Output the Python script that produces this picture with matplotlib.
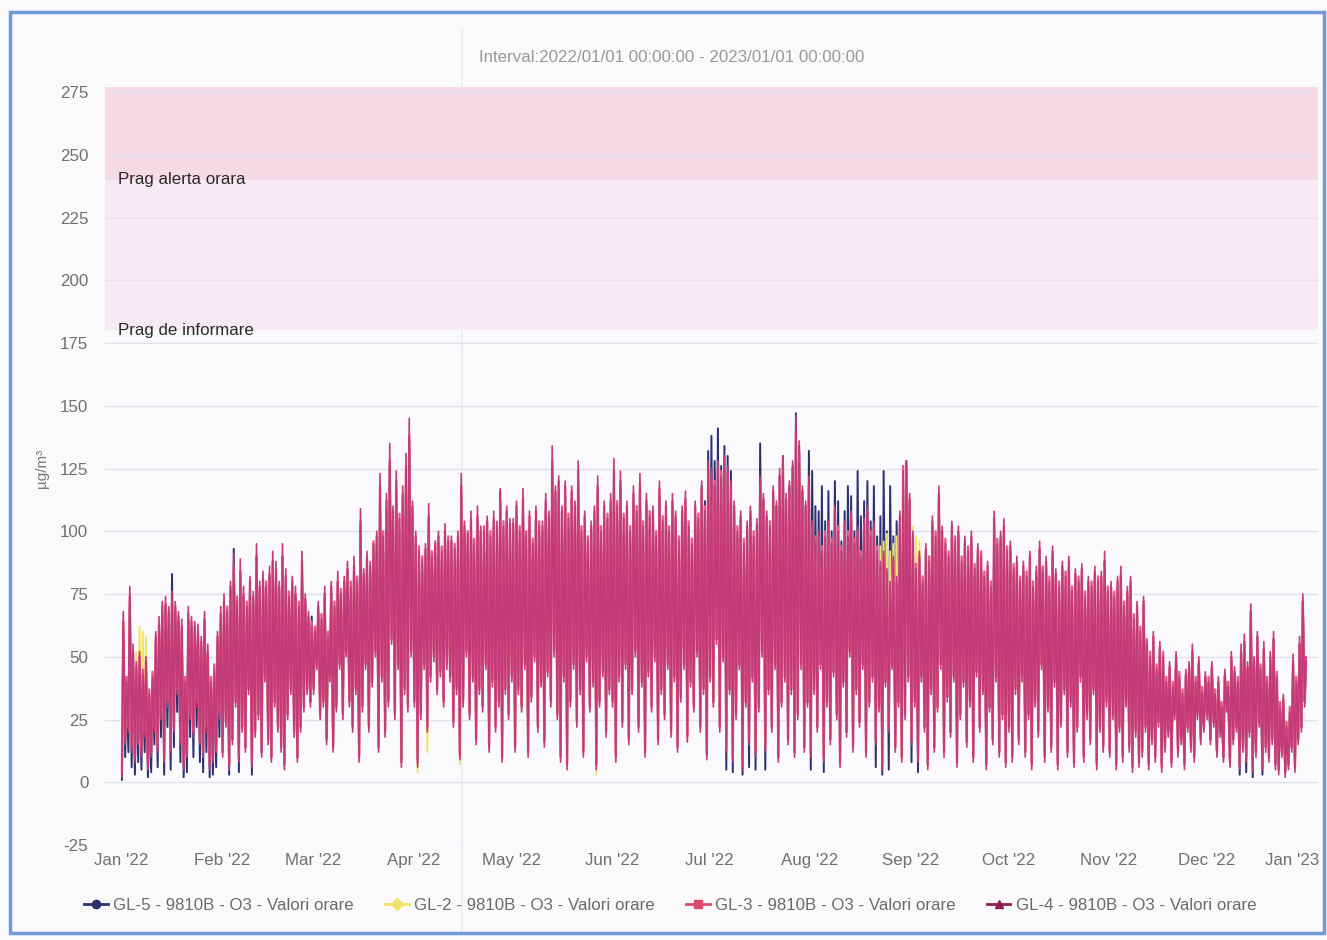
import numpy as np
import matplotlib.pyplot as plt
from matplotlib.lines import Line2D
from matplotlib.patches import Rectangle
import matplotlib.transforms as mtransforms

plt.rcParams['font.family'] = ['Liberation Sans', 'DejaVu Sans']
plt.rcParams['axes.unicode_minus'] = False

# daily peak / trough (ug/m3), one value per day of 2022
GL4_MAX = [
    68,40,78,55,48,52,45,50,35,42,60,66,72,74,70,76,72,68,65,40,70,66,64,63,58,68,55,40,45,60,70,
    75,68,80,91,72,89,78,70,82,76,95,80,84,78,86,92,88,80,95,85,74,82,78,70,92,75,68,62,
    60,72,65,78,58,80,70,84,75,82,88,78,90,80,109,85,92,88,95,100,123,98,115,135,110,124,105,118,131,145,112,
    100,92,88,95,111,90,95,100,92,103,96,98,93,100,123,104,99,108,95,110,102,100,106,98,108,104,117,102,110,105,
    105,112,100,117,98,108,95,110,102,104,115,108,134,118,122,110,120,105,118,112,128,100,108,96,104,110,122,100,112,105,115,
    129,110,124,105,112,100,118,108,123,102,115,106,110,98,120,104,112,100,115,108,96,110,116,102,95,112,105,120,108,128,
    125,118,128,122,130,126,120,112,100,108,95,104,110,98,105,122,115,108,102,118,112,125,130,115,120,128,146,136,118,112,122,
    104,96,100,92,98,104,95,110,100,92,104,98,108,95,102,90,105,110,98,104,92,88,92,85,80,90,82,108,124,128,115,
    100,85,92,80,95,88,106,98,118,102,95,90,104,96,102,88,98,92,100,85,95,90,82,88,78,108,95,100,105,92,
    96,85,90,80,88,82,92,78,86,96,84,90,80,94,85,78,88,82,90,76,85,80,87,74,82,78,86,80,84,92,76,
    80,74,82,86,70,78,82,65,72,60,74,55,50,60,45,56,50,40,48,38,52,42,35,45,48,55,40,50,36,44,
    40,48,35,42,30,45,38,52,46,40,55,59,48,71,50,60,45,56,40,52,60,42,30,35,22,28,51,40,58,75,50,
]
GL4_MIN = [
    2,15,20,12,8,15,10,18,5,10,20,12,25,8,30,12,20,35,15,5,10,25,18,30,15,10,20,5,8,12,25,
    10,22,5,15,30,8,20,12,35,6,18,25,10,40,15,8,30,20,12,5,25,35,18,8,20,28,35,30,
    35,45,25,30,15,40,12,28,45,25,50,30,20,35,8,28,45,20,38,50,12,40,18,30,55,25,45,6,35,28,50,
    30,6,25,45,20,40,48,35,42,30,45,40,22,35,9,30,50,25,40,15,35,28,45,12,38,20,30,8,35,25,
    40,12,35,28,45,10,32,48,20,38,14,42,30,50,25,8,40,5,30,45,22,35,10,48,28,38,5,30,42,18,35,
    30,8,40,22,45,15,35,50,20,38,10,42,28,48,15,35,25,45,18,40,12,32,45,16,38,28,50,20,35,9,
    40,30,55,20,48,12,35,8,25,45,5,30,15,40,10,28,50,12,35,20,45,8,30,40,15,35,10,25,45,12,30,
    10,35,20,45,8,30,15,42,25,6,38,18,50,12,35,22,45,10,30,40,15,28,5,38,20,45,12,30,8,25,40,
    15,30,8,40,20,5,35,12,28,45,10,32,18,40,6,25,38,14,30,8,42,20,35,5,28,15,40,10,25,6,
    20,8,35,15,40,10,25,5,30,18,45,8,28,12,38,5,22,35,10,30,6,20,40,8,25,15,35,5,20,12,30,
    10,25,5,20,8,30,12,4,18,6,10,20,5,15,8,22,4,12,18,6,25,10,15,5,20,12,8,25,15,20,
    25,15,22,10,18,8,28,6,15,20,5,12,8,18,4,10,22,5,12,8,15,5,3,10,2,5,12,4,15,20,30,
]

GL3_MAX = [
    64,42,74,52,46,50,43,48,37,44,58,63,70,71,68,72,70,66,62,42,67,64,62,60,56,65,52,42,47,58,67,
    72,70,78,86,74,84,75,72,80,74,90,78,81,80,83,88,85,78,90,82,76,80,75,72,88,73,66,64,
    62,70,67,75,60,78,72,80,77,80,85,80,86,82,104,83,90,86,96,98,118,100,112,128,108,120,107,115,126,138,110,
    98,94,90,93,106,92,96,98,94,100,98,96,95,98,118,102,100,105,97,106,100,102,104,100,105,102,112,104,108,103,
    103,110,102,113,100,106,97,108,104,102,112,106,128,116,120,108,118,107,116,110,124,102,106,98,102,108,118,102,110,107,112,
    124,112,120,107,110,102,115,110,119,104,112,108,108,100,117,106,110,102,112,106,98,108,113,104,97,110,107,117,110,124,
    122,120,125,124,127,123,118,110,102,106,97,102,108,100,103,118,113,106,104,116,110,122,127,113,118,125,140,132,116,110,118,
    102,98,98,94,100,102,97,108,102,94,102,100,106,97,100,92,103,108,100,102,94,86,90,83,78,88,80,106,126,125,113,
    98,87,90,82,93,90,104,100,115,100,97,92,102,98,100,90,96,94,98,87,93,92,84,86,80,105,97,98,102,94,
    94,87,88,82,86,84,90,80,84,93,86,88,82,92,83,80,86,84,88,78,83,82,85,76,80,80,84,82,82,88,78,
    78,76,80,83,72,76,80,67,70,62,72,57,52,58,47,54,52,42,46,40,50,44,37,43,46,52,42,48,38,42,
    42,46,37,40,32,43,40,50,44,42,52,56,46,68,48,57,47,53,42,50,57,44,32,33,24,30,48,42,55,72,48,
]
GL3_MIN = [
    4,17,22,14,10,17,12,20,7,12,22,14,27,10,32,14,22,37,17,7,12,27,20,32,17,12,22,7,10,14,27,
    12,24,7,17,32,10,22,14,37,8,20,27,12,42,17,10,32,22,14,7,27,37,20,10,22,30,37,32,
    37,47,27,32,17,42,14,30,47,27,52,32,22,37,10,30,47,22,40,52,14,42,20,32,57,27,47,8,37,30,52,
    32,8,27,47,22,42,50,37,44,32,47,42,24,37,11,32,52,27,42,17,37,30,47,14,40,22,32,10,37,27,
    42,14,37,30,47,12,34,50,22,40,16,44,32,52,27,10,42,7,32,47,24,37,12,50,30,40,7,32,44,20,37,
    32,10,42,24,47,17,37,52,22,40,12,44,30,50,17,37,27,47,20,42,14,34,47,18,40,30,52,22,37,11,
    42,32,57,22,50,14,37,10,27,47,7,32,17,42,12,30,52,14,37,22,47,10,32,42,17,37,12,27,47,14,32,
    12,37,22,47,10,32,17,44,27,8,40,20,52,14,37,24,47,12,32,42,17,30,7,40,22,47,14,32,10,27,42,
    17,32,10,42,22,7,37,14,30,47,12,34,20,42,8,27,40,16,32,10,44,22,37,7,30,17,42,12,27,8,
    22,10,37,17,42,12,27,7,32,20,47,10,30,14,40,7,24,37,12,32,8,22,42,10,27,17,37,7,22,14,32,
    12,27,7,22,10,32,14,6,20,8,12,22,7,17,10,24,6,14,20,8,27,12,17,7,22,14,10,27,17,22,
    27,17,24,12,20,10,30,8,17,22,7,14,10,20,6,12,24,7,14,10,17,7,5,12,4,7,14,6,17,22,32,
]

GL5_MAX = [
    60,38,70,50,44,48,40,46,33,40,56,62,68,70,66,83,68,64,60,38,65,62,60,58,54,62,50,38,42,55,65,
    70,64,76,93,68,84,74,66,78,72,90,76,80,74,82,88,84,76,90,80,70,78,74,66,86,72,64,66,
    56,68,62,74,55,76,66,80,72,78,84,74,86,76,102,80,88,84,90,95,116,92,108,126,104,116,100,112,124,136,106,
    95,88,84,90,104,86,90,95,88,98,92,94,88,95,116,98,95,102,90,104,98,95,100,94,102,100,116,98,104,100,
    100,106,96,110,94,102,90,104,98,100,108,104,126,112,116,104,114,100,112,106,120,96,102,92,100,104,116,96,106,100,110,
    122,104,118,100,106,96,112,104,116,98,110,100,104,94,114,100,106,96,110,104,92,104,110,98,92,106,100,118,112,132,
    138,128,141,126,134,130,124,108,98,104,92,100,106,95,102,135,112,104,98,114,110,122,130,112,118,126,147,134,116,110,132,
    124,110,108,118,104,116,100,120,112,96,108,118,114,100,124,106,112,120,104,118,98,106,124,100,118,98,104,104,118,128,112,
    96,82,88,76,92,84,102,94,112,98,92,86,100,92,98,84,94,88,96,82,92,86,78,84,75,104,92,96,100,88,
    92,82,86,76,84,78,88,75,82,92,80,86,76,90,82,75,84,78,86,72,82,76,84,70,78,75,82,76,80,88,72,
    76,70,78,82,66,74,78,62,68,56,70,52,47,56,42,52,47,37,45,35,48,40,33,42,45,52,37,47,33,42,
    37,45,33,40,28,42,35,49,43,37,52,56,45,68,47,58,42,53,37,49,57,40,28,32,20,26,48,37,55,72,47,
]
GL5_MIN = [
    1,10,12,6,3,8,5,12,2,4,15,6,18,3,22,5,14,28,8,2,4,18,10,22,8,4,12,2,3,6,18,
    12,24,3,17,32,4,22,14,37,3,20,27,12,42,17,10,32,22,14,7,27,37,20,10,22,30,37,32,
    38,48,28,33,18,44,15,31,48,28,53,33,23,38,11,31,48,23,41,53,15,43,21,33,58,28,48,9,38,31,53,
    33,9,28,48,23,43,51,38,45,33,48,43,25,38,12,33,53,28,43,18,38,31,48,15,41,23,33,11,38,28,
    43,15,38,31,48,13,35,51,23,41,17,45,33,53,28,11,43,8,33,48,25,38,13,51,31,41,8,33,45,21,38,
    33,11,43,25,48,18,38,53,23,41,13,45,31,51,18,38,28,48,21,43,15,35,48,19,41,31,53,23,38,12,
    42,32,57,22,50,5,37,4,27,47,3,32,6,42,5,30,52,5,37,22,47,10,32,42,17,37,12,27,47,14,32,
    5,37,22,47,4,32,17,44,27,8,40,20,52,14,37,24,47,12,32,42,6,30,3,40,5,47,14,32,10,27,42,
    8,32,4,42,22,7,37,14,30,47,12,34,20,42,8,27,40,16,32,10,44,22,37,7,30,17,42,12,27,8,
    23,11,38,18,43,13,28,8,33,21,48,11,31,15,41,8,25,38,13,33,9,23,43,11,28,18,38,8,23,15,33,
    13,28,8,23,11,33,15,7,21,9,13,23,8,18,11,25,7,15,21,9,28,13,18,8,23,15,11,28,18,23,
    27,17,24,12,20,10,30,8,17,22,3,14,4,20,2,12,24,3,14,10,17,7,5,12,4,7,14,6,17,22,32,
]

GL2_MAX = [
    62,36,70,50,52,62,60,58,34,40,55,60,66,68,64,70,66,62,58,36,64,60,58,56,52,62,50,36,40,54,64,
    68,62,74,84,66,82,72,64,76,70,88,74,78,72,80,86,82,74,88,78,68,76,72,64,86,70,62,58,
    55,66,60,72,53,74,64,78,70,76,82,72,84,74,100,78,86,82,88,94,112,92,108,124,102,116,98,110,122,132,104,
    92,85,82,88,102,84,88,93,86,96,90,92,86,94,112,96,92,100,88,102,95,93,98,92,100,96,108,95,102,98,
    98,104,94,108,92,100,88,102,95,97,106,100,122,110,114,102,112,98,110,104,118,94,100,90,98,102,112,94,104,98,106,
    118,102,114,98,104,94,110,100,112,96,106,98,102,92,112,96,104,94,106,100,90,102,108,96,89,104,98,112,100,118,
    116,110,118,114,120,116,112,104,94,100,90,98,102,92,98,112,106,100,96,110,104,116,120,106,112,118,134,126,110,104,112,
    96,90,92,86,92,96,88,102,92,86,96,92,100,88,94,84,98,102,92,96,86,94,96,99,92,95,98,90,115,118,106,
    102,98,96,82,88,82,98,92,108,94,88,84,96,90,94,82,92,86,93,80,88,84,78,82,74,100,88,92,97,86,
    88,80,84,75,82,77,86,73,80,88,78,84,75,87,80,73,82,77,84,71,80,75,82,70,77,73,80,75,79,86,71,
    75,70,77,80,66,73,77,61,68,56,70,52,47,56,42,52,47,38,45,36,49,40,33,42,45,52,38,47,34,42,
    38,45,33,40,28,42,36,49,43,38,52,56,45,67,47,57,42,53,38,49,57,40,28,33,21,27,48,38,55,71,47,
]
GL2_MIN = [
    5,18,22,15,12,20,14,20,8,13,24,15,28,12,33,15,23,38,18,8,14,28,21,33,18,13,23,8,11,15,28,
    13,25,8,18,33,11,23,15,38,9,21,28,13,43,18,11,33,23,15,8,28,38,21,11,23,31,38,33,
    38,48,28,33,18,43,15,31,48,28,53,33,23,38,11,31,48,23,41,53,15,43,21,33,58,28,48,9,38,31,53,
    33,4,28,48,12,43,51,38,45,33,48,43,25,38,7,33,53,28,43,18,38,31,48,15,41,23,33,11,38,28,
    43,15,38,31,48,13,35,51,23,41,17,45,33,53,28,11,43,8,33,48,25,38,13,51,31,41,3,33,45,21,38,
    33,11,43,25,48,18,38,53,23,41,13,45,31,51,18,38,28,48,21,43,15,35,48,19,41,31,53,23,38,12,
    43,33,58,23,51,15,38,11,28,48,8,33,18,43,13,31,53,15,38,23,48,11,33,43,18,38,13,28,48,15,33,
    13,38,23,48,11,33,18,45,28,9,41,21,53,15,38,25,48,13,33,43,18,31,8,41,23,48,15,33,11,28,43,
    18,33,11,43,23,8,38,15,31,48,13,35,21,43,9,28,41,17,33,11,45,23,38,8,31,18,43,13,28,9,
    23,11,38,18,43,13,28,8,33,21,48,11,31,15,41,8,25,38,13,33,9,23,43,11,28,18,38,8,23,15,33,
    13,28,8,23,11,33,15,7,21,9,13,23,8,18,11,25,7,15,21,9,28,13,18,8,23,15,11,28,18,23,
    28,18,25,13,21,11,31,9,18,23,8,15,11,21,7,13,25,8,15,11,18,8,6,13,5,8,15,7,18,23,33,
]

series_names = ['GL-5 - 9810B - O3 - Valori orare', 'GL-2 - 9810B - O3 - Valori orare',
                'GL-3 - 9810B - O3 - Valori orare', 'GL-4 - 9810B - O3 - Valori orare']
series_colors = ['#2b3170', '#f1e36a', '#e55a86', '#c23a78']
legend_colors = ['#2b3170', '#f1e36a', '#e04a6a', '#8e1f52']
series_markers = ['o', 'D', 's', '^']

month_labels = ["Jan '22", "Feb '22", "Mar '22", "Apr '22", "May '22", "Jun '22", "Jul '22",
                "Aug '22", "Sep '22", "Oct '22", "Nov '22", "Dec '22", "Jan '23"]

thresholds = {'Prag alerta orara': 240, 'Prag de informare': 180}


def zigzag(mins, maxs):
    # trough around 05:00, peak around 15:00 of every day
    mins = np.asarray(mins, float)
    maxs = np.asarray(maxs, float)
    assert len(mins) == 365 and len(maxs) == 365
    d = np.arange(365)
    t = np.empty(730)
    v = np.empty(730)
    t[0::2] = d + 5 / 24
    t[1::2] = d + 15 / 24
    v[0::2] = mins
    v[1::2] = maxs
    return t, v


data = [(GL5_MIN, GL5_MAX), (GL2_MIN, GL2_MAX), (GL3_MIN, GL3_MAX), (GL4_MIN, GL4_MAX)]

fig = plt.figure(figsize=(13.27, 9.4), dpi=100, facecolor='#faf9fc')

# faint scan line, behind everything
fig.add_artist(Line2D([462 / 1327, 462 / 1327], [1 - 30 / 940, 1 - 935 / 940],
                      transform=fig.transFigure, color='#e2f0f2', lw=1.2, zorder=-5))

ax = fig.add_axes([105 / 1327, 1 - 845 / 940, 1213 / 1327, 758 / 940])
ax.set_facecolor('none')

ax.axhspan(240, 300, color='#f6dae6', zorder=0.2, lw=0)
ax.axhspan(180, 240, color='#f8eaf4', zorder=0.2, lw=0)

lws = [1.4, 1.4, 1.7, 1.2]
for i, (mn, mx) in enumerate(data):
    t, v = zigzag(mn, mx)
    ax.plot(t, v, color=series_colors[i], lw=lws[i], zorder=2 + i)

ax.set_xlim(-5, 368.3)
ax.set_ylim(-25, 277)
ax.set_yticks(np.arange(-25, 276, 25))
ax.yaxis.grid(True, color='#e3e2ea', lw=1, zorder=0.5)
ax.set_axisbelow(True)
for s in ax.spines.values():
    s.set_visible(False)

months = np.arange('2022-01', '2023-02', dtype='datetime64[M]')
month_pos = (months.astype('datetime64[D]') - np.datetime64('2022-01-01')).astype(int)
ax.set_xticks(month_pos)
ax.set_xticklabels(month_labels)
ax.tick_params(axis='y', length=0, pad=12, labelsize=12.2, labelcolor='#707070')
ax.tick_params(axis='x', length=0, pad=6, labelsize=12.2, labelcolor='#707070')
last = ax.get_xticklabels()[-1]
last.set_transform(last.get_transform() + mtransforms.ScaledTranslation(-0.15, 0, fig.dpi_scale_trans))

trans = mtransforms.blended_transform_factory(ax.transAxes, ax.transData)
for label, val in thresholds.items():
    ax.text(0.011, val, label, transform=trans, ha='left', va='center',
            fontsize=12.2, color='#2a2a2a', zorder=10)

fig.text(672 / 1327, 1 - 58 / 940, 'Interval:2022/01/01 00:00:00 - 2023/01/01 00:00:00',
         ha='center', va='center', fontsize=12.2, color='#999999')
fig.text(42 / 1327, 1 - 468 / 940, 'µg/m³', rotation=90, ha='center', va='center',
         fontsize=11, color='#7a7a7a')

handles = [Line2D([0], [0], color=c, lw=2, marker=m, markersize=6)
           for c, m in zip(legend_colors, series_markers)]
fig.legend(handles, series_names, loc='center', bbox_to_anchor=(0.505, 1 - 905 / 940),
           ncol=4, frameon=False, fontsize=12.2, handlelength=1.4, handletextpad=0.3,
           columnspacing=1.85, labelcolor='#6b6b6b')

# scanned page frame
fig.add_artist(Rectangle((10 / 1327, 1 - 933 / 940), 1314 / 1327, 921 / 940,
                         transform=fig.transFigure, fill=False, edgecolor='#6f9bd8', lw=2.5))

fig.savefig('out.png', dpi=100, facecolor=fig.get_facecolor())
